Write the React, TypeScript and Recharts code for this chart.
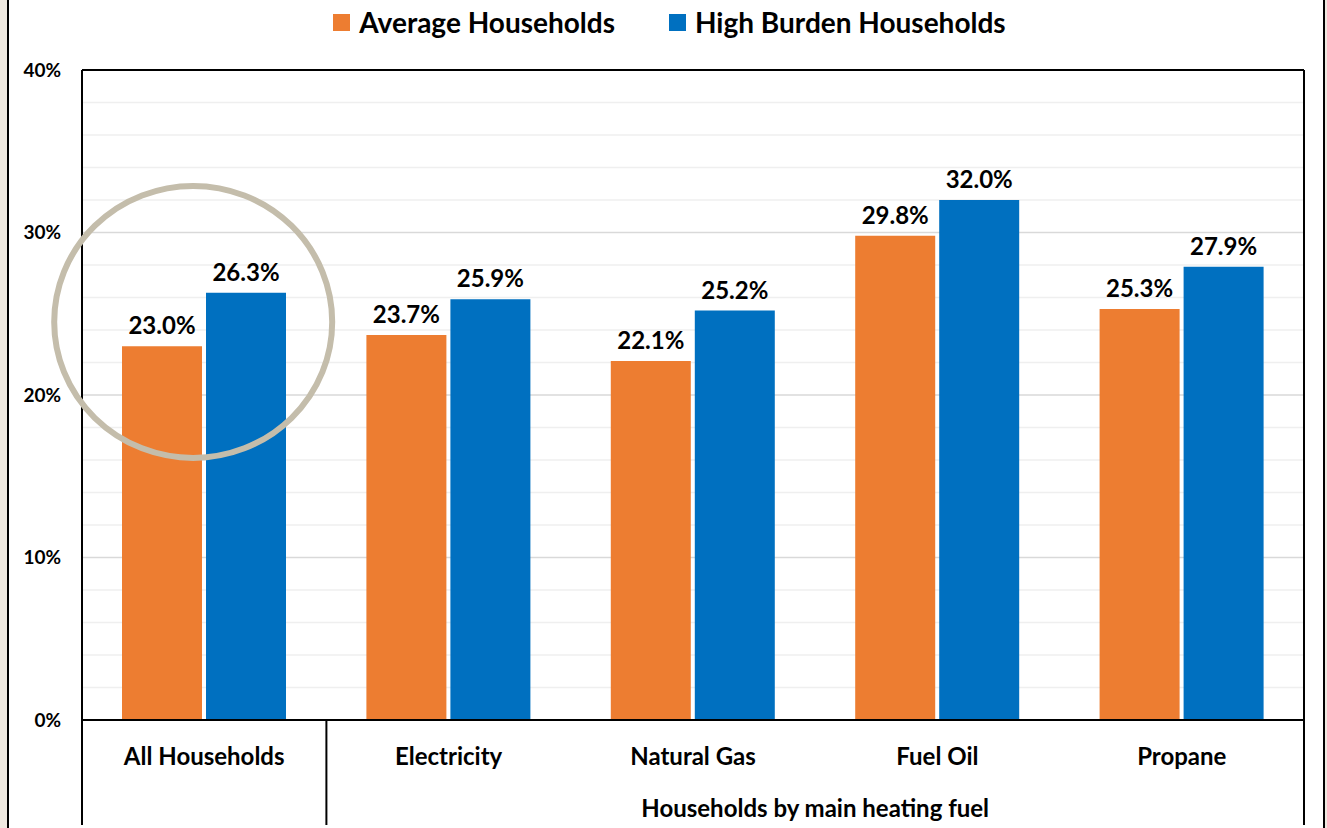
import React from 'react';
import {
  BarChart,
  Bar,
  XAxis,
  YAxis,
  CartesianGrid,
  Legend,
  LabelList,
  ReferenceDot,
} from 'recharts';

// Energy burden share by household group
const categories = ['All Households', 'Electricity', 'Natural Gas', 'Fuel Oil', 'Propane'];
const averageHouseholds = [23.0, 23.7, 22.1, 29.8, 25.3];
const highBurdenHouseholds = [26.3, 25.9, 25.2, 32.0, 27.9];
const yTicks = [0, 10, 20, 30, 40];
const minorGrid = [2, 4, 6, 8, 12, 14, 16, 18, 22, 24, 26, 28, 32, 34, 36, 38];
const majorGrid = [10, 20, 30];
const groupLabel = 'Households by main heating fuel';
const highlightValue = 24.5;

const series = [
  { key: 'average', name: 'Average Households', color: '#ED7D31' },
  { key: 'high', name: 'High Burden Households', color: '#0070C0' },
];

const data = categories.map((c, i) => ({
  category: c,
  average: averageHouseholds[i],
  high: highBurdenHouseholds[i],
}));

const FONT = 'Lato, "Noto Sans", sans-serif';
const W = 1327;
const H = 828;

const CategoryTick = (props: any) => {
  const { x, y, payload, index, width, visibleTicksCount } = props;
  const n = visibleTicksCount || categories.length;
  const band = width / n;
  const bottom = y + 105;
  const left = x - band / 2;
  const right = x + band / 2;
  return (
    <g>
      <text
        x={x}
        y={y + 45}
        textAnchor="middle"
        fontFamily={FONT}
        fontWeight={700}
        fontSize={24}
        fill="#000"
      >
        {payload.value}
      </text>
      {index === 0 && (
        <>
          <line x1={left} x2={left} y1={y} y2={bottom} stroke="#000" strokeWidth={2} />
          <line x1={right} x2={right} y1={y} y2={bottom} stroke="#000" strokeWidth={2} />
        </>
      )}
      {index === n - 1 && (
        <line x1={right} x2={right} y1={y} y2={bottom} stroke="#000" strokeWidth={2} />
      )}
      {index === 1 && (
        <text
          x={left + ((n - 1) * band) / 2}
          y={y + 97}
          textAnchor="middle"
          fontFamily={FONT}
          fontWeight={700}
          fontSize={24}
          fill="#000"
        >
          {groupLabel}
        </text>
      )}
    </g>
  );
};

const LegendContent = () => (
  <div
    style={{
      display: 'flex',
      justifyContent: 'center',
      alignItems: 'center',
      height: 44,
      paddingLeft: 12,
      fontFamily: FONT,
      fontWeight: 700,
      fontSize: 28,
      color: '#000',
    }}
  >
    {series.map((s, i) => (
      <div
        key={s.key}
        style={{ display: 'flex', alignItems: 'center', marginLeft: i === 0 ? 0 : 54 }}
      >
        <span
          style={{ display: 'inline-block', width: 17, height: 17, background: s.color, marginRight: 9 }}
        />
        <span>{s.name}</span>
      </div>
    ))}
  </div>
);

const Highlight = (props: any) => {
  const { cx, cy } = props;
  if (cx == null || cy == null) return null;
  return <ellipse cx={cx - 11} cy={cy} rx={139} ry={136} fill="none" stroke="#C4BDAB" strokeWidth={6} />;
};

const pct = (v: number) => `${v.toFixed(1)}%`;

export default function App() {
  return (
    <div
      style={{
        position: 'absolute',
        left: 0,
        top: 0,
        width: W,
        height: H,
        background: '#EFE9E0',
        overflow: 'hidden',
      }}
    >
      <div
        style={{
          position: 'absolute',
          left: 7,
          top: 0,
          width: 1318,
          height: H,
          background: '#fff',
          borderLeft: '2px solid #000',
          borderRight: '2px solid #000',
          boxSizing: 'border-box',
        }}
      />
      <div style={{ position: 'absolute', left: 0, top: 0 }}>
        <BarChart
          width={W}
          height={H}
          data={data}
          margin={{ top: 25, right: 22, bottom: 0, left: 0 }}
          barGap={4}
          barSize={80}
        >
          <CartesianGrid vertical={false} horizontalValues={minorGrid} stroke="#EFEFEF" strokeWidth={1.5} />
          <CartesianGrid vertical={false} horizontalValues={majorGrid} stroke="#D9D9D9" strokeWidth={1.5} />
          <XAxis
            dataKey="category"
            height={108}
            axisLine={{ stroke: '#000', strokeWidth: 2 }}
            tickLine={false}
            tickSize={0}
            tickMargin={0}
            interval={0}
            tick={<CategoryTick />}
          />
          <XAxis
            xAxisId="top"
            dataKey="category"
            orientation="top"
            height={1}
            axisLine={{ stroke: '#000', strokeWidth: 2 }}
            tickLine={false}
            tick={false}
          />
          <YAxis
            domain={[0, 40]}
            ticks={yTicks}
            width={82}
            axisLine={{ stroke: '#000', strokeWidth: 2 }}
            tickLine={false}
            tickSize={0}
            tickMargin={21}
            tickFormatter={(v: number) => `${v}%`}
            tick={{ fontFamily: FONT, fontWeight: 700, fontSize: 19, fill: '#000' }}
          />
          <YAxis
            yAxisId="right"
            orientation="right"
            domain={[0, 40]}
            width={1}
            axisLine={{ stroke: '#000', strokeWidth: 2 }}
            tickLine={false}
            tick={false}
          />
          <Legend verticalAlign="top" align="center" content={<LegendContent />} wrapperStyle={{ top: 0, left: 0, width: W }} />
          {series.map((s) => (
            <Bar key={s.key} dataKey={s.key} name={s.name} fill={s.color} isAnimationActive={false}>
              <LabelList
                dataKey={s.key}
                position="top"
                offset={12}
                formatter={(v: any) => pct(Number(v))}
                style={{ fontFamily: FONT, fontWeight: 700, fontSize: 24, fill: '#000' }}
              />
            </Bar>
          ))}
          <ReferenceDot
            x={categories[0]}
            y={highlightValue}
            r={136}
            ifOverflow="visible"
            shape={<Highlight />}
          />
        </BarChart>
      </div>
    </div>
  );
}
